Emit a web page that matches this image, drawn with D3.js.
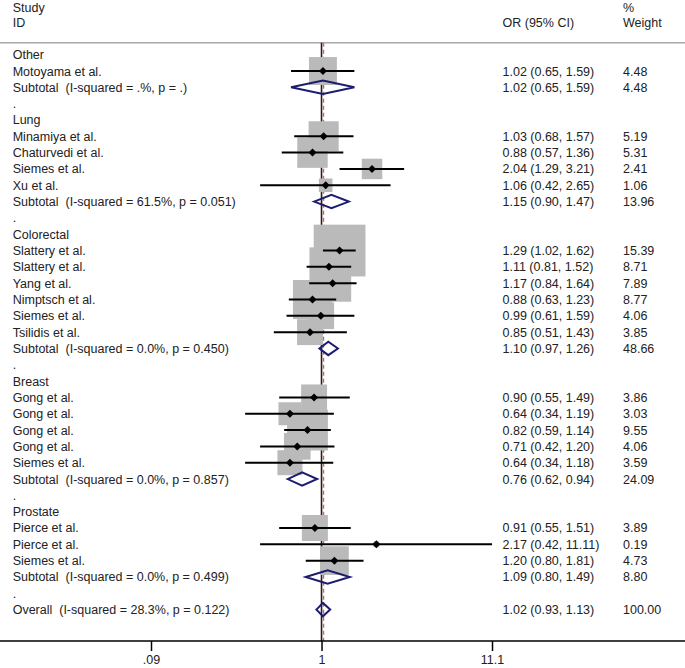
<!DOCTYPE html>
<html><head><meta charset="utf-8">
<script src="https://cdn.jsdelivr.net/npm/d3@7"></script>
<style>
html,body{margin:0;padding:0;background:#fff;}
text{font-family:"Liberation Sans",Arial,sans-serif;font-size:12.5px;fill:#222;white-space:pre;}
</style></head>
<body><svg id="c" width="685" height="668"></svg>
<script>
// row types: h = heading, s = study, d = subtotal/overall diamond, b = blank "."
const rowLabels = ["Other","Motoyama et al.","Subtotal  (I-squared = .%, p = .)",".",
 "Lung","Minamiya et al.","Chaturvedi et al.","Siemes et al.","Xu et al.","Subtotal  (I-squared = 61.5%, p = 0.051)",".",
 "Colorectal","Slattery et al.","Slattery et al.","Yang et al.","Nimptsch et al.","Siemes et al.","Tsilidis et al.","Subtotal  (I-squared = 0.0%, p = 0.450)",".",
 "Breast","Gong et al.","Gong et al.","Gong et al.","Gong et al.","Siemes et al.","Subtotal  (I-squared = 0.0%, p = 0.857)",".",
 "Prostate","Pierce et al.","Pierce et al.","Siemes et al.","Subtotal  (I-squared = 0.0%, p = 0.499)",".",
 "Overall  (I-squared = 28.3%, p = 0.122)"];
const rowTypes = ["h","s","d","b",
 "h","s","s","s","s","d","b",
 "h","s","s","s","s","s","s","d","b",
 "h","s","s","s","s","s","d","b",
 "h","s","s","s","d","b",
 "d"];
const orVals = [null,1.02,1.02,null, null,1.03,0.88,2.04,1.06,1.15,null, null,1.29,1.11,1.17,0.88,0.99,0.85,1.10,null, null,0.90,0.64,0.82,0.71,0.64,0.76,null, null,0.91,2.17,1.20,1.09,null, 1.02];
const loVals = [null,0.65,0.65,null, null,0.68,0.57,1.29,0.42,0.90,null, null,1.02,0.81,0.84,0.63,0.61,0.51,0.97,null, null,0.55,0.34,0.59,0.42,0.34,0.62,null, null,0.55,0.42,0.80,0.80,null, 0.93];
const hiVals = [null,1.59,1.59,null, null,1.57,1.36,3.21,2.65,1.47,null, null,1.62,1.52,1.64,1.23,1.59,1.43,1.26,null, null,1.49,1.19,1.14,1.20,1.18,0.94,null, null,1.51,11.11,1.81,1.49,null, 1.13];
const weights = [null,4.48,4.48,null, null,5.19,5.31,2.41,1.06,13.96,null, null,15.39,8.71,7.89,8.77,4.06,3.85,48.66,null, null,3.86,3.03,9.55,4.06,3.59,24.09,null, null,3.89,0.19,4.73,8.80,null, 100.00];
const tickVals = [0.09, 1, 11.1];
const tickLabels = [".09", "1", "11.1"];
const overallOR = 1.02;

const svg = d3.select("#c");
const x = d3.scaleLog().domain([0.09, 11.1]).range([151, 492]);
const y = d3.scaleLinear().domain([0, 34]).range([54.7, 609.6]);
const f2 = d3.format(".2f");
const idx = d3.range(rowLabels.length);
const topY = 42.7, axisY = 641;
const labX = 12.7, orX = 502.5, wtX = 623;

// header
svg.append("text").attr("x", labX).attr("y", 11.7).text("Study");
svg.append("text").attr("x", labX).attr("y", 26.7).text("ID");
svg.append("text").attr("x", orX).attr("y", 26.7).text("OR (95% CI)");
svg.append("text").attr("x", wtX).attr("y", 11.7).text("%");
svg.append("text").attr("x", wtX).attr("y", 26.7).text("Weight");
svg.append("line").attr("x1", 0).attr("x2", 685).attr("y1", topY).attr("y2", topY)
  .attr("stroke", "#a8a8a8").attr("stroke-width", 1.5);

// null line and overall dashed line
svg.append("line").attr("x1", x(1)).attr("x2", x(1)).attr("y1", topY).attr("y2", axisY)
  .attr("stroke", "#2a1a1a").attr("stroke-width", 1.6);
svg.append("line").attr("x1", x(overallOR)+0.6).attr("x2", x(overallOR)+0.6).attr("y1", topY).attr("y2", axisY)
  .attr("stroke", "#c86a6a").attr("stroke-width", 1.4).attr("stroke-dasharray", "4,3");

// boxes
const studies = idx.filter(i => rowTypes[i] === "s");
const k = 13.2;
svg.selectAll("rect.box").data(studies).join("rect").attr("class", "box")
  .attr("x", i => x(orVals[i]) - k*Math.sqrt(weights[i])/2)
  .attr("y", i => y(i) - k*Math.sqrt(weights[i])/2)
  .attr("width", i => k*Math.sqrt(weights[i]))
  .attr("height", i => k*Math.sqrt(weights[i]))
  .attr("fill", "#bababa");
// whiskers
svg.selectAll("line.ci").data(studies).join("line").attr("class", "ci")
  .attr("x1", i => x(loVals[i])).attr("x2", i => x(hiVals[i]))
  .attr("y1", i => y(i)).attr("y2", i => y(i))
  .attr("stroke", "#000").attr("stroke-width", 2);
// point markers
svg.selectAll("path.pt").data(studies).join("path").attr("class", "pt")
  .attr("d", i => { const cx = x(orVals[i]), cy = y(i), r = 4;
    return `M${cx-r},${cy}L${cx},${cy-r}L${cx+r},${cy}L${cx},${cy+r}Z`; })
  .attr("fill", "#000");
// diamonds
const dias = idx.filter(i => rowTypes[i] === "d");
svg.selectAll("path.dia").data(dias).join("path").attr("class", "dia")
  .attr("d", i => { const cy = y(i), h = 6.7;
    return `M${x(loVals[i])},${cy}L${x(orVals[i])},${cy-h}L${x(hiVals[i])},${cy}L${x(orVals[i])},${cy+h}Z`; })
  .attr("fill", "none").attr("stroke", "#1c1c70").attr("stroke-width", 2).attr("stroke-linejoin", "miter");

// labels
svg.selectAll("text.lab").data(idx).join("text").attr("class", "lab")
  .attr("x", labX).attr("y", i => y(i) + 4.5).text(i => rowLabels[i]);
const valued = idx.filter(i => orVals[i] !== null);
svg.selectAll("text.orv").data(valued).join("text").attr("class", "orv")
  .attr("x", orX).attr("y", i => y(i) + 4.5)
  .text(i => `${f2(orVals[i])} (${f2(loVals[i])}, ${f2(hiVals[i])})`);
svg.selectAll("text.wt").data(valued).join("text").attr("class", "wt")
  .attr("x", wtX).attr("y", i => y(i) + 4.5).text(i => f2(weights[i]));

// axis
svg.append("line").attr("x1", 0).attr("x2", 685).attr("y1", axisY).attr("y2", axisY)
  .attr("stroke", "#000").attr("stroke-width", 1.5);
const ax = d3.axisBottom(x).tickValues(tickVals).tickFormat((d, i) => tickLabels[i]).tickSize(10).tickPadding(4);
const g = svg.append("g").attr("transform", `translate(0,${axisY})`).call(ax);
g.select(".domain").remove();
g.selectAll(".tick line").attr("stroke", "#000").attr("stroke-width", 1.5);
g.selectAll(".tick text").attr("font-family", "Liberation Sans, Arial, sans-serif").attr("font-size", 12.5).attr("fill", "#222");
</script></body></html>
